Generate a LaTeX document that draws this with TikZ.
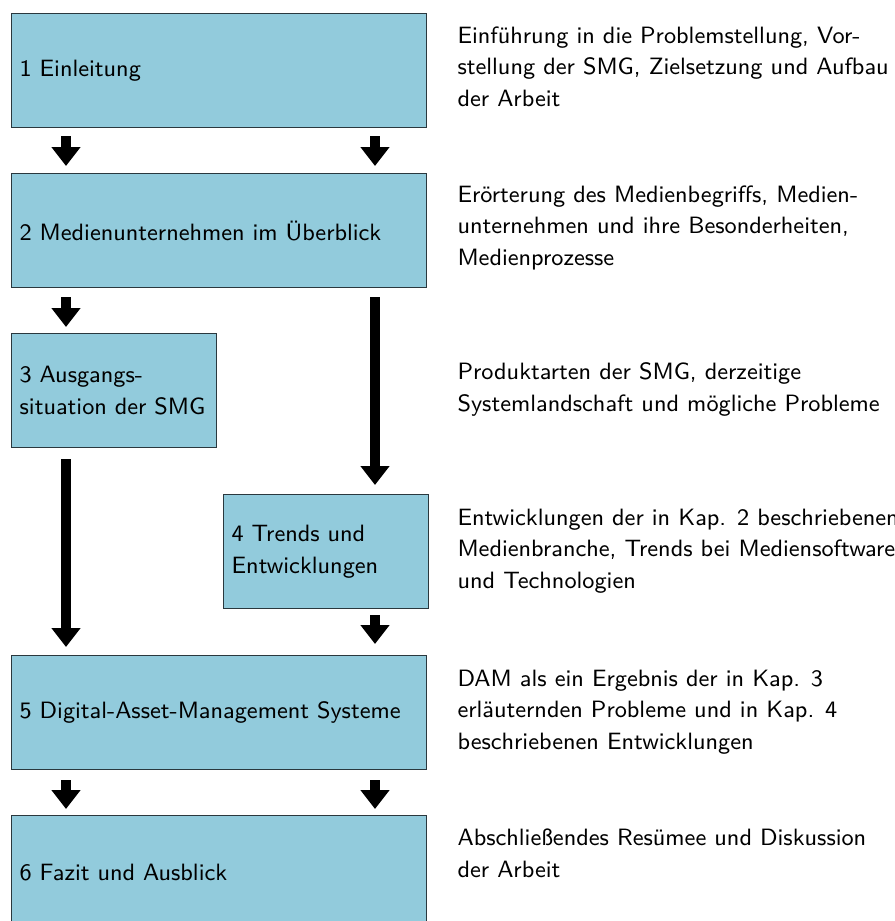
\documentclass[tikz,border=0pt]{standalone}
\usepackage{fontspec}
\usetikzlibrary{arrows.meta}
\definecolor{boxfill}{RGB}{146,203,220}
\definecolor{boxline}{RGB}{42,56,62}
\begin{document}
% one unit = 0.381pt
\begin{tikzpicture}[x=0.381pt, y=-0.381pt,
  font=\sffamily\fontsize{9pt}{12pt}\selectfont,
  box/.style={draw=boxline, fill=boxfill, line width=0.5pt, anchor=north west,
    inner xsep=3.048pt, inner ysep=0pt, align=left, minimum height=43.434pt},
  widebox/.style={box, minimum width=158.115pt, text width=152.019pt},
  halfbox/.style={box, minimum width=78.105pt, text width=72.009pt},
  desc/.style={anchor=base west, inner sep=0pt, align=left},
  flow/.style={line width=4pt, -{Triangle[width=10.668pt,length=7.239pt]}}]
\useasboundingbox (0,0) rectangle (895,921);
\clip (0,0) rectangle (895,921);

% columns of the arrows
\coordinate (L) at (66,0);
\coordinate (R) at (375,0);

% chapter boxes
\node[widebox] (b1) at (11,13)  {1 Einleitung};
\node[widebox] (b2) at (11,173) {\mbox{2 Medienunternehmen im Überblick}};
\node[halfbox] (b3) at (11,333) {3 Ausgangs-\\\mbox{situation der SMG}};
\node[halfbox] (b4) at (223,494) {4 Trends und\\Entwicklungen};
\node[widebox] (b5) at (11,655) {\mbox{5 Digital-Asset-Management Systeme}};
\node[widebox] (b6) at (11,815) {6 Fazit und Ausblick};

% chapter descriptions (anchored at the baseline of the last line)
\node[desc] (d1) at (457,106) {Einführung in die Problemstellung, Vor-\\stellung der SMG, Zielsetzung und Aufbau\\der Arbeit};
\node[desc] (d2) at (457,265) {Erörterung des Medienbegriffs, Medien-\\unternehmen und ihre Besonderheiten,\\Medienprozesse};
\node[desc] (d3) at (457,411) {Produktarten der SMG, derzeitige\\Systemlandschaft und mögliche Probleme};
\node[desc] (d4) at (457,588) {Entwicklungen der in Kap. 2 beschriebenen\\Medienbranche, Trends bei Mediensoftware\\und Technologien};
\node[desc] (d5) at (457,749) {DAM als ein Ergebnis der in Kap. 3\\erläuternden Probleme und in Kap. 4\\beschriebenen Entwicklungen};
\node[desc] (d6) at (457,877) {Abschließendes Resümee und Diskussion\\der Arbeit};

% reading order
\draw[flow, shorten <=3.048pt, shorten >=2.667pt] (b1.south -| L) -- (b2.north -| L);
\draw[flow, shorten <=3.048pt, shorten >=2.667pt] (b1.south -| R) -- (b2.north -| R);
\draw[flow, shorten <=3.429pt, shorten >=2.286pt] (b2.south -| L) -- (b3.north -| L);
\draw[flow, shorten <=3.429pt, shorten >=3.429pt] (b2.south -| R) -- (b4.north -| R);
\draw[flow, shorten <=4.191pt, shorten >=3.048pt] (b3.south -| L) -- (b5.north -| L);
\draw[flow, shorten <=2.286pt, shorten >=4.191pt] (b4.south -| R) -- (b5.north -| R);
\draw[flow, shorten <=3.81pt, shorten >=2.286pt] (b5.south -| L) -- (b6.north -| L);
\draw[flow, shorten <=3.81pt, shorten >=2.286pt] (b5.south -| R) -- (b6.north -| R);
\end{tikzpicture}
\end{document}
